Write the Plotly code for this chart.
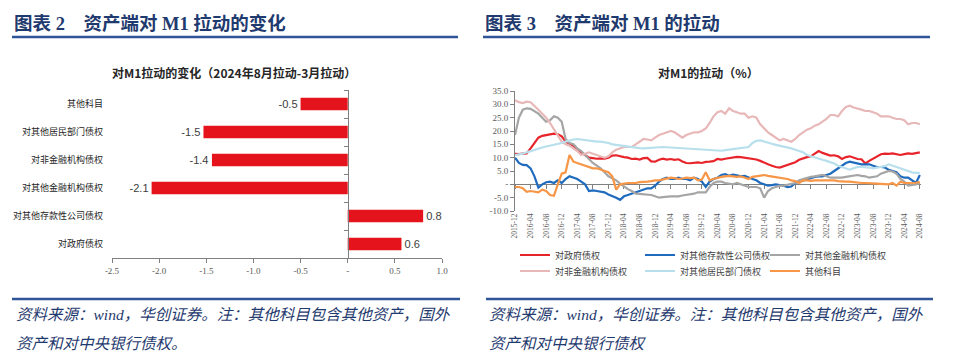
import plotly.graph_objects as go
import pandas as pd

# ---------------- data ----------------
bar_categories = ['其他科目', '对其他居民部门债权', '对非金融机构债权',
                  '对其他金融机构债权', '对其他存款性公司债权', '对政府债权']
bar_values = [-0.50, -1.53, -1.44, -2.08, 0.80, 0.57]
bar_tickvals = [-2.5, -2.0, -1.5, -1.0, -0.5, 0.0, 0.5, 1.0]
bar_ticktext = ['-2.5', '-2.0', '-1.5', '-1.0', '-0.5', '-', '0.5', '1.0']

months = pd.date_range('2015-12-01', '2024-08-01', freq='MS').strftime('%Y-%m').tolist()
month_ticks = months[::4]

gov = [11.4, 11.3, 11.5, 11.6, 13.5, 15.5, 17.5, 18.2, 18.4, 18.8, 19.0, 18.8, 18.0,
       16.0, 15.2, 14.5, 13.0, 12.0, 11.0, 10.0, 9.8, 9.6, 9.7, 9.6, 10.0,
       10.8, 10.9, 10.5, 10.2, 10.0, 9.5, 9.6, 9.3, 9.8, 9.9, 8.6, 8.5,
       9.2, 9.6, 9.3, 9.5, 9.2, 9.4, 8.6, 8.0, 7.9, 8.1, 8.2, 8.0,
       8.4, 8.5, 8.7, 9.5, 9.3, 9.6, 9.9, 10.0, 10.3, 10.2, 10.0, 9.8,
       9.6, 9.3, 8.8, 8.0, 7.5, 7.0, 6.5, 6.3, 6.8, 7.3, 7.6, 8.3,
       9.2, 9.8, 10.2, 10.5, 11.5, 12.5, 11.8, 11.2, 10.8, 10.9, 10.5, 9.5,
       10.2, 10.5, 10.0, 9.5, 9.4, 7.8, 8.8, 9.6, 10.4, 11.3, 11.5, 11.4,
       11.6, 11.2, 11.0, 11.3, 11.6, 11.4, 11.7, 12.0]

odc = [10.0, 8.0, 7.3, 7.2, 6.0, 3.0, -1.2, 0.0, 0.8, 1.0, 0.5, 1.5, 0.5,
       2.0, 3.0, 2.5, 2.0, 1.0, 0.0, -2.5, -2.3, -2.5, -2.8, -3.0, -3.8,
       -4.3, -5.0, -5.8, -4.5, -4.0, -3.5, -3.0, -2.5, -2.0, -1.5, -1.5, -0.5,
       1.0, 2.0, 2.5, 2.0, 2.0, 2.5, 2.0, 2.0, 1.5, 2.5, 2.0, 1.0,
       -1.0, 1.0, 2.0, 2.5, 3.5, 3.8, 3.2, 3.6, 3.4, 3.0, 3.2, 2.5,
       2.0, 1.5, 0.5, 0.0, -0.5, -0.3, 0.0, -0.3, -0.5, -1.0, -0.8, 0.5,
       1.0, 1.5, 2.0, 2.5, 2.8, 3.0, 3.0, 3.5, 4.0, 5.0, 6.0, 7.0,
       8.0, 8.5, 8.2, 8.0, 7.5, 7.5, 7.5, 7.0, 6.5, 6.5, 6.3, 5.5,
       5.0, 4.5, 3.0, 2.5, 2.5, 1.5, 0.5, 3.5]

ofi = [18.5, 25.0, 28.0, 28.5, 28.3, 27.5, 26.5, 25.0, 23.5, 24.0, 25.5, 25.0, 23.5,
       17.0, 15.5, 15.0, 13.5, 12.5, 11.0, 9.5, 8.0, 7.0, 6.0, 4.5, 3.0,
       2.3, 1.5, 0.3, -0.8, -1.8, -2.5, -3.5, -3.6, -3.7, -3.8, -4.0, -4.5,
       -5.0, -4.8, -4.6, -4.5, -4.5, -4.5, -4.2, -4.0, -3.8, -3.5, -3.0, -3.0,
       -3.0, -1.0, 0.5, 1.0, 1.0, 0.5, 0.3, 0.0, 0.5, 0.0, -0.5, -1.0,
       -1.0, -1.0, -1.5, -5.0, -2.5, -1.5, -1.0, -0.5, -0.5, -0.2, 0.0, 0.5,
       1.5, 2.0, 2.5, 2.8, 3.0, 3.3, 3.5, 3.0, 2.5, 2.5, 2.5, 2.5,
       2.8, 3.0, 3.3, 3.5, 3.2, 3.0, 2.5, 2.8, 3.0, 4.0, 4.5, 5.0,
       4.8, 4.0, 2.0, 1.0, -0.5, -0.3, 0.0, 0.5]

nfc = [31.5, 30.8, 30.5, 31.0, 30.8, 29.5, 28.0, 26.5, 25.0, 23.0, 20.5, 18.0, 16.0,
       15.0, 14.5, 13.5, 12.5, 11.0, 11.5, 12.0, 11.5, 11.0, 10.5, 10.0, 10.5,
       12.0, 13.0, 13.5, 14.0, 14.0, 14.0, 15.0, 16.0, 17.0, 16.8, 16.5, 17.5,
       18.5, 19.0, 19.5, 20.0, 19.5, 18.5, 17.5, 18.5, 19.0, 19.5, 19.5, 20.0,
       21.0, 23.0, 25.5, 27.0, 27.5, 26.5, 28.5, 27.5, 27.0, 26.5, 26.5, 25.0,
       25.5, 25.0, 22.5, 21.0, 19.5, 18.5, 17.5, 16.5, 17.0, 16.5, 16.0, 17.0,
       18.5, 19.5, 20.5, 21.0, 22.0, 22.5, 23.5, 24.5, 26.0, 26.0, 25.5, 27.5,
       29.0, 29.5, 28.8, 28.5, 28.0, 27.5, 27.5, 27.0, 26.5, 25.5, 25.5, 25.5,
       25.0, 24.5, 24.5, 24.0, 22.5, 23.0, 23.0, 22.5]

hh = [11.0, 11.2, 11.5, 12.0, 12.5, 13.0, 13.5, 13.8, 14.2, 14.5, 15.0, 15.3, 15.5,
      16.0, 16.5, 16.8, 17.0, 16.8, 16.5, 16.3, 16.0, 16.0, 16.0, 15.8, 15.5,
      15.0, 14.8, 14.5, 14.2, 14.0, 13.8, 13.7, 13.6, 13.5, 13.6, 13.7, 13.8,
      14.0, 14.0, 13.9, 13.8, 13.8, 13.6, 13.5, 13.4, 13.3, 13.2, 13.0, 12.9,
      12.8, 12.7, 12.6, 12.5, 12.6, 12.8, 13.0, 13.0, 13.3, 13.5, 13.8, 14.0,
      15.5, 16.3, 16.5, 16.0, 15.5, 15.2, 14.8, 14.5, 14.0, 13.7, 13.5, 13.0,
      12.5, 12.0, 11.0, 10.5, 10.0, 9.5, 9.2, 8.8, 8.3, 7.8, 7.0, 6.5,
      6.0, 5.5, 6.0, 6.5, 6.5, 6.5, 6.3, 6.0, 6.2, 6.5, 6.8, 7.5,
      7.0, 6.5, 6.0, 5.5, 5.0, 4.5, 4.3, 4.3]

other = [-1.0, -1.0, -1.5, -2.8, -2.5, -2.8, -3.0, -2.0, -2.5, -4.0, -4.3, 0.0, 4.0,
         4.5, 11.0, 8.5, 8.0, 7.5, 7.0, 6.5, 6.0, 6.0, 5.5, 5.0, 4.5,
         3.0, -2.0, 0.0, 0.3, 0.5, 0.5, 0.5, 0.8, 0.8, 1.0, 1.2, 1.5,
         1.5, 1.8, 2.0, 2.5, 2.3, 2.0, 2.2, 2.5, 2.3, 2.5, 1.5, 1.8,
         4.5, 1.5, 2.0, 2.5, 2.8, 3.0, 3.2, 3.0, 2.8, 3.0, 2.5, 2.0,
         2.8, 3.0, 3.3, 3.5, 3.2, 3.0, 2.8, 2.5, 2.2, 2.0, 1.5, 1.2,
         0.5, 1.5, 1.5, 1.3, 1.5, 1.5, 1.5, 1.3, 1.5, 1.5, 1.2, 1.0,
         1.0, 1.0, 0.8, 0.5, 0.5, 0.5, 0.5, 0.3, 0.3, 0.2, 0.0, 0.0,
         0.5, -0.5, 1.0, 0.5, 0.5, 0.5, 0.6, 0.8]

line_tickvals = [-10, -5, 0, 5, 10, 15, 20, 25, 30, 35]
line_ticktext = ['-10.0', '-5.0', '-', '5.0', '10.0', '15.0', '20.0', '25.0', '30.0', '35.0']

series = [
    ('对政府债权', gov, '#E8242B', 'legend'),
    ('对其他存款性公司债权', odc, '#1F6BBE', 'legend'),
    ('对其他金融机构债权', ofi, '#A5A5A5', 'legend'),
    ('对非金融机构债权', nfc, '#E8B8B8', 'legend2'),
    ('对其他居民部门债权', hh, '#B7DFEC', 'legend2'),
    ('其他科目', other, '#F79646', 'legend2'),
]
for _, s, _, _ in series:
    assert len(s) == len(months), len(s)

# ---------------- geometry helpers ----------------
W, H = 960, 358
def px(x):
    return x / W
def py(y):
    return 1 - y / H

AX = '#808080'
TXT = '#404040'
NAVY = '#1F3A6E'
SERIF = 'Liberation Serif, Noto Sans CJK SC, serif'
SANS = 'Noto Sans CJK SC, sans-serif'

fig = go.Figure()

# ---------------- left: bar chart ----------------
fig.add_trace(go.Bar(
    x=bar_values, y=bar_categories, orientation='h',
    marker=dict(color='#E5141C', line=dict(width=0)),
    width=0.44,
    texttemplate='%{x:.1f}', textposition='outside',
    textfont=dict(size=13.5, color=TXT, family='Liberation Sans, sans-serif'),
    cliponaxis=False, showlegend=False, hoverinfo='skip',
    xaxis='x', yaxis='y'))
fig.add_trace(go.Scatter(
    x=[0] * len(bar_categories), y=bar_categories, mode='markers',
    marker=dict(opacity=0), showlegend=False, hoverinfo='skip',
    xaxis='x', yaxis='y3'))

# ---------------- right: line chart ----------------
for name, vals, color, lg in series:
    fig.add_trace(go.Scatter(
        x=months, y=vals, mode='lines', name=name,
        line=dict(color=color, width=2.2),
        legend=lg, hoverinfo='skip',
        xaxis='x2', yaxis='y2'))
fig.add_trace(go.Scatter(
    x=month_ticks, y=[0] * len(month_ticks), mode='markers',
    marker=dict(opacity=0), showlegend=False, hoverinfo='skip',
    xaxis='x3', yaxis='y2'))

y2_dom = [py(211), py(91)]
zero_pos = y2_dom[0] + (0 - (-10)) / 45 * (y2_dom[1] - y2_dom[0])
x2_range = [0, len(months) - 1 + 0.3]

legend_common = dict(orientation='h', xanchor='left', yanchor='middle',
                     entrywidth=80, entrywidthmode='pixels', itemwidth=30,
                     font=dict(size=9, color=TXT), bgcolor='rgba(0,0,0,0)',
                     borderwidth=0, tracegroupgap=0,
                     itemclick=False, itemdoubleclick=False)

fig.update_layout(
    width=W, height=H,
    margin=dict(l=0, r=0, t=0, b=0, pad=0, autoexpand=False),
    paper_bgcolor='white', plot_bgcolor='white',
    font=dict(family=SANS, color=TXT),
    bargap=0.5,
    xaxis=dict(domain=[px(112), px(442)], anchor='y', range=[-2.5, 1.0],
               tickvals=bar_tickvals, ticktext=bar_ticktext, automargin=False,
               showline=True, linecolor=AX, linewidth=1,
               ticks='outside', ticklen=4, tickcolor=AX,
               tickfont=dict(size=9, color='#595959', family='Liberation Serif, serif'),
               showgrid=False, zeroline=False, fixedrange=True),
    yaxis=dict(domain=[py(258), py(90)], anchor='x', type='category',
               categoryorder='array', categoryarray=bar_categories, automargin=False,
               range=[len(bar_categories) - 0.5, -0.5],
               showline=False, ticks='', ticklabelstandoff=8,
               tickfont=dict(size=9, color='#262626'),
               showgrid=False, zeroline=False),
    yaxis3=dict(overlaying='y', anchor='free', position=px(348), type='category',
                categoryorder='array', categoryarray=bar_categories, automargin=False,
                range=[len(bar_categories) - 0.5, -0.5],
                showline=True, linecolor=AX, linewidth=1,
                ticks='outside', tickson='boundaries', ticklen=4, tickcolor=AX,
                showticklabels=False, showgrid=False, zeroline=False),
    xaxis2=dict(domain=[px(515), px(921)], anchor='y2', type='category',
                categoryorder='array', categoryarray=months, range=x2_range,
                tickvals=month_ticks, ticktext=month_ticks, tickangle=-90, automargin=False,
                ticks='', showline=False, showgrid=False, zeroline=False,
                tickfont=dict(size=7.5, color='#595959', family='Liberation Serif, serif')),
    yaxis2=dict(domain=y2_dom, anchor='x2', range=[-10, 35], automargin=False,
                tickvals=line_tickvals, ticktext=line_ticktext,
                showline=True, linecolor=AX, linewidth=1,
                ticks='outside', ticklen=4, tickcolor=AX,
                tickfont=dict(size=9, color='#595959', family='Liberation Serif, serif'),
                showgrid=False, zeroline=False),
    xaxis3=dict(overlaying='x2', anchor='free', position=zero_pos, type='category',
                categoryorder='array', categoryarray=months, range=x2_range,
                tickvals=month_ticks, showticklabels=False, automargin=False,
                showline=True, linecolor=AX, linewidth=1,
                ticks='outside', ticklen=4, tickcolor=AX,
                showgrid=False, zeroline=False, layer='below traces'),
    legend=dict(x=px(515), y=py(255), **legend_common),
    legend2=dict(x=px(515), y=py(271), **legend_common),
)

# ---------------- headers, titles, footers ----------------
annotations = [
    dict(text='<b>图表 2\u00a0\u00a0\u00a0\u00a0资产端对 M1 拉动的变化</b>', x=px(12), y=py(23)),
    dict(text='<b>图表 3\u00a0\u00a0\u00a0\u00a0资产端对 M1 的拉动</b>', x=px(483), y=py(23)),
]
for a in annotations:
    a.update(xref='paper', yref='paper', xanchor='left', yanchor='middle', showarrow=False,
             font=dict(size=18.5, color=NAVY, family=SERIF))
titles = [
    dict(text='<b>对M1拉动的变化（2024年8月拉动-3月拉动）</b>', x=px(234), y=py(72)),
    dict(text='<b>对M1的拉动（%）</b>', x=px(708), y=py(72)),
]
for t in titles:
    t.update(xref='paper', yref='paper', xanchor='center', yanchor='middle', showarrow=False,
             font=dict(size=12, color='#262626', family=SANS))
foot = [
    dict(text='<i>资料来源：wind，华创证券。注：其他科目包含其他资产，国外</i>', x=px(14), y=py(314)),
    dict(text='<i>资产和对中央银行债权。</i>', x=px(14), y=py(343)),
    dict(text='<i>资料来源：wind，华创证券。注：其他科目包含其他资产，国外</i>', x=px(487), y=py(314)),
    dict(text='<i>资产和对中央银行债权</i>', x=px(487), y=py(343)),
]
for f in foot:
    f.update(xref='paper', yref='paper', xanchor='left', yanchor='middle', showarrow=False,
             font=dict(size=15.5, color=NAVY, family=SERIF))
fig.update_layout(annotations=annotations + titles + foot)

shapes = []
for x0, x1 in [(12, 458), (483, 930)]:
    shapes.append(dict(type='line', xref='paper', yref='paper', x0=px(x0), x1=px(x1),
                       y0=py(37), y1=py(37), line=dict(color='#2E5597', width=2.5)))
for x0, x1 in [(12, 460), (486, 933)]:
    shapes.append(dict(type='line', xref='paper', yref='paper', x0=px(x0), x1=px(x1),
                       y0=py(299), y1=py(299), line=dict(color='#2E5597', width=2.5)))
fig.update_layout(shapes=shapes)

fig.write_html('out.html', config={'displayModeBar': False},
               post_script="document.body.style.margin='0px';")
